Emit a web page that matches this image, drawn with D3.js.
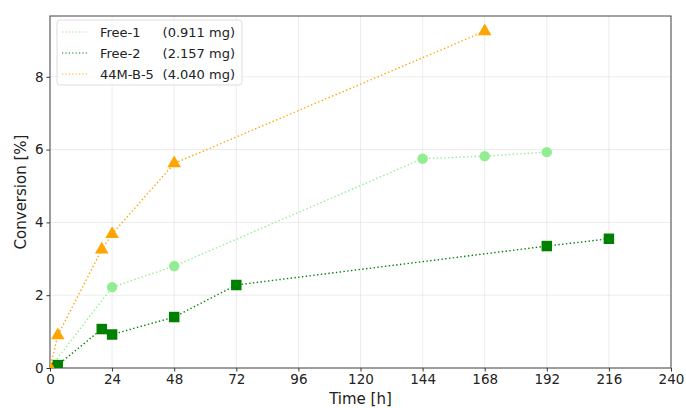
<!DOCTYPE html>
<html>
<head>
<meta charset="utf-8">
<script src="https://cdn.jsdelivr.net/npm/d3@7/dist/d3.min.js"></script>
<style>
  html, body { margin: 0; padding: 0; background: #fff; }
  svg { font-family: "DejaVu Sans", sans-serif; }
</style>
</head>
<body>
<svg id="chart" width="686" height="408"></svg>
<script>
// data
const free1Time = [0, 24, 48, 144, 168, 192];
const free1Conv = [0, 2.22, 2.80, 5.75, 5.82, 5.93];

const free2Time = [0, 3, 20, 24, 48, 72, 192, 216];
const free2Conv = [0, 0.08, 1.07, 0.92, 1.40, 2.28, 3.35, 3.55];

const m44Time = [0, 3, 20, 24, 48, 168];
const m44Conv = [0, 0.90, 3.25, 3.68, 5.62, 9.25];

const xTicks = [0, 24, 48, 72, 96, 120, 144, 168, 192, 216, 240];
const yTicks = [0, 2, 4, 6, 8];

const seriesNames = ['Free-1', 'Free-2', '44M-B-5'];
const seriesMass = ['(0.911 mg)', '(2.157 mg)', '(4.040 mg)'];

const series = [
  { name: seriesNames[0], mass: seriesMass[0], t: free1Time, v: free1Conv, color: '#90ee90', marker: 'circle' },
  { name: seriesNames[1], mass: seriesMass[1], t: free2Time, v: free2Conv, color: '#008000', marker: 'square' },
  { name: seriesNames[2], mass: seriesMass[2], t: m44Time, v: m44Conv, color: '#ffa500', marker: 'triangle' }
];

const margin = { left: 50, right: 15, top: 16, bottom: 40 };
const W = 686, H = 408;

const svg = d3.select('#chart');

const x = d3.scaleLinear().domain([0, 240]).range([margin.left, W - margin.right]);
const y = d3.scaleLinear().domain([0, 9.67]).range([H - margin.bottom, margin.top]);

svg.append('defs').append('clipPath').attr('id', 'plot-clip')
  .append('rect')
  .attr('x', x(0)).attr('y', y(9.67))
  .attr('width', x(240) - x(0)).attr('height', y(0) - y(9.67));

// grid
const grid = svg.append('g');
grid.selectAll('.gx').data(xTicks).join('line')
  .attr('x1', d => x(d)).attr('x2', d => x(d))
  .attr('y1', y(0)).attr('y2', y(9.67))
  .attr('stroke', '#b0b0b0').attr('stroke-opacity', 0.3).attr('stroke-width', 0.8);
grid.selectAll('.gy').data(yTicks).join('line')
  .attr('x1', x(0)).attr('x2', x(240))
  .attr('y1', d => y(d)).attr('y2', d => y(d))
  .attr('stroke', '#b0b0b0').attr('stroke-opacity', 0.3).attr('stroke-width', 0.8);

// axes
const xAxis = svg.append('g')
  .attr('transform', `translate(0,${y(0)})`)
  .call(d3.axisBottom(x).tickValues(xTicks).tickSize(3.5).tickPadding(3));
const yAxis = svg.append('g')
  .attr('transform', `translate(${x(0)},0)`)
  .call(d3.axisLeft(y).tickValues(yTicks).tickSize(3.5).tickPadding(3));

[xAxis, yAxis].forEach(a => {
  a.select('.domain').remove();
  a.selectAll('line').attr('stroke', '#333');
  a.selectAll('text').attr('font-size', 13.5).attr('fill', '#222')
    .attr('font-family', '"DejaVu Sans", sans-serif');
});

// frame
svg.append('rect')
  .attr('x', x(0)).attr('y', y(9.67))
  .attr('width', x(240) - x(0)).attr('height', y(0) - y(9.67))
  .attr('fill', 'none').attr('stroke', '#444').attr('stroke-width', 1);

// labels
svg.append('text')
  .attr('x', (x(0) + x(240)) / 2).attr('y', 404)
  .attr('text-anchor', 'middle').attr('font-size', 15).attr('fill', '#222')
  .text('Time [h]');
svg.append('text')
  .attr('transform', `translate(26,${(y(0) + y(9.67)) / 2}) rotate(-90)`)
  .attr('text-anchor', 'middle').attr('font-size', 15).attr('fill', '#222')
  .text('Conversion [%]');

// series
const plot = svg.append('g').attr('clip-path', 'url(#plot-clip)');
const line = d3.line().x(d => x(d[0])).y(d => y(d[1]));

const symbolFor = {
  circle: d3.symbol().type(d3.symbolCircle).size(85),
  square: d3.symbol().type(d3.symbolSquare).size(110),
  triangle: d3.symbol().type(d3.symbolTriangle).size(80)
};

series.forEach(s => {
  const pts = s.t.map((t, i) => [t, s.v[i]]);
  plot.append('path')
    .datum(pts)
    .attr('d', line)
    .attr('fill', 'none')
    .attr('stroke', s.color)
    .attr('stroke-width', 1.4)
    .attr('stroke-dasharray', '1.4,2.4');
  plot.selectAll(null).data(pts).join('path')
    .attr('d', symbolFor[s.marker]())
    .attr('transform', d => `translate(${x(d[0])},${y(d[1])})`)
    .attr('fill', s.color);
});

// legend
const lg = svg.append('g').attr('transform', `translate(57,20)`);
lg.append('rect')
  .attr('width', 185).attr('height', 65).attr('rx', 3)
  .attr('fill', '#fff').attr('fill-opacity', 0.8)
  .attr('stroke', '#ddd');
series.forEach((s, i) => {
  const yy = 12 + i * 21;
  lg.append('line')
    .attr('x1', 5).attr('x2', 31).attr('y1', yy).attr('y2', yy)
    .attr('stroke', s.color).attr('stroke-width', 1.2)
    .attr('stroke-dasharray', '1.2,2.2');
  lg.append('text')
    .attr('x', 43).attr('y', yy + 5)
    .attr('font-size', 13).attr('fill', '#222')
    .text(s.name);
  lg.append('text')
    .attr('x', 178).attr('y', yy + 5).attr('text-anchor', 'end')
    .attr('font-size', 13).attr('fill', '#222')
    .text(s.mass);
});
</script>
</body>
</html>
